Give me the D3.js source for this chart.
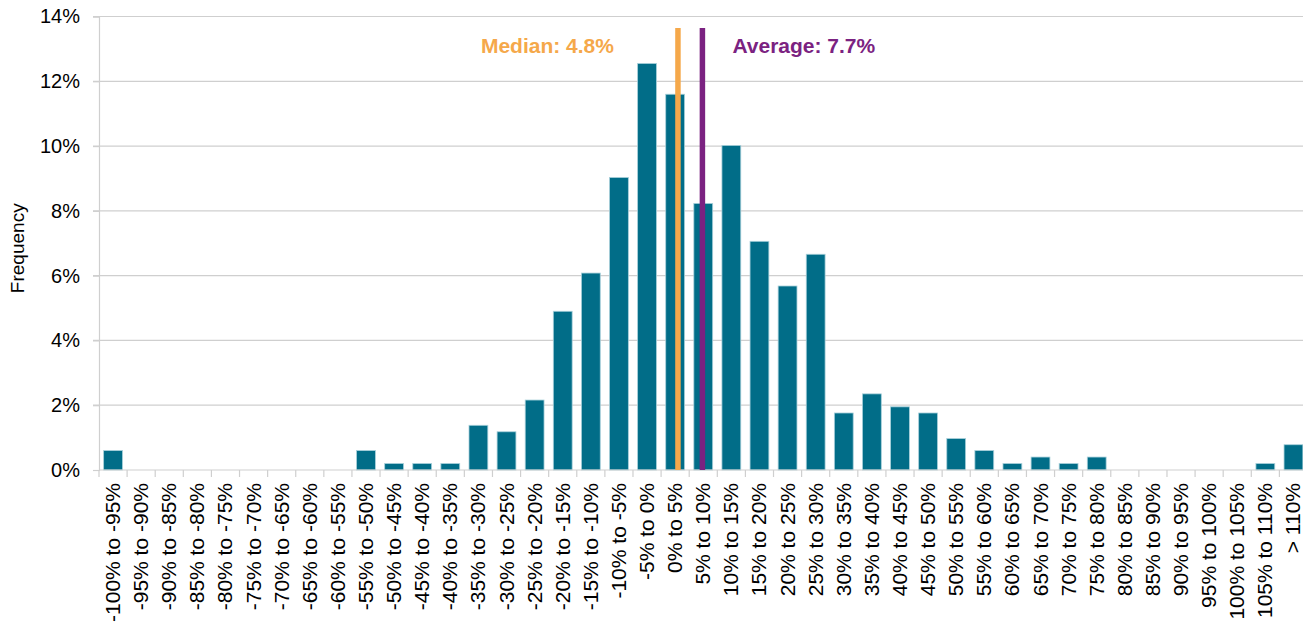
<!DOCTYPE html>
<meta charset="utf-8">
<style>
  body { margin: 0; background: #fff; }
  svg text { font-family: "Liberation Sans", Arial, sans-serif; fill: #000; }
</style>
<body>
<div id="chart"></div>
<script src="https://d3js.org/d3.v7.min.js"></script>
<script>
  // bins of the return distribution
  const categories = [
    "-100% to -95%", "-95% to -90%", "-90% to -85%", "-85% to -80%", "-80% to -75%",
    "-75% to -70%", "-70% to -65%", "-65% to -60%", "-60% to -55%", "-55% to -50%",
    "-50% to -45%", "-45% to -40%", "-40% to -35%", "-35% to -30%", "-30% to -25%",
    "-25% to -20%", "-20% to -15%", "-15% to -10%", "-10% to -5%", "-5% to 0%",
    "0% to 5%", "5% to 10%", "10% to 15%", "15% to 20%", "20% to 25%",
    "25% to 30%", "30% to 35%", "35% to 40%", "40% to 45%", "45% to 50%",
    "50% to 55%", "55% to 60%", "60% to 65%", "65% to 70%", "70% to 75%",
    "75% to 80%", "80% to 85%", "85% to 90%", "90% to 95%", "95% to 100%",
    "100% to 105%", "105% to 110%", "> 110%"
  ];
  // frequency in percent
  const frequency = [
    0.6, 0, 0, 0, 0,
    0, 0, 0, 0, 0.6,
    0.2, 0.2, 0.2, 1.38, 1.18,
    2.16, 4.9, 6.08, 9.03, 12.55,
    11.6, 8.23, 10.02, 7.06, 5.68,
    6.66, 1.76, 2.35, 1.95, 1.76,
    0.97, 0.6, 0.2, 0.4, 0.2,
    0.4, 0, 0, 0, 0,
    0, 0.2, 0.78
  ];
  const yTicks = [0, 2, 4, 6, 8, 10, 12, 14];

  // reference lines: label and position along the category axis (in bins)
  const refLines = [
    { label: "Median: 4.8%", pos: 20.6, color: "#f5a84a", side: "left" },
    { label: "Average: 7.7%", pos: 21.47, color: "#7b2281", side: "right" }
  ];

  const width = 1303, height = 623;
  const plot = { left: 99, right: 1307.5, top: 16.5, bottom: 470 };

  const svg = d3.select("#chart").append("svg")
    .attr("width", width).attr("height", height);

  const x = d3.scaleBand().domain(categories).range([plot.left, plot.right]).padding(0);
  const y = d3.scaleLinear().domain([0, 14]).range([plot.bottom, plot.top]);
  const step = x.step();
  const barW = step * 0.67;

  // gridlines
  svg.append("g")
    .selectAll("line")
    .data(yTicks.filter(d => d > 0))
    .join("line")
      .attr("x1", plot.left - 6).attr("x2", width)
      .attr("y1", d => y(d)).attr("y2", d => y(d))
      .attr("stroke", "#cfcfcf").attr("stroke-width", 1.2);

  // y axis
  const yAxis = svg.append("g")
    .attr("transform", `translate(${plot.left},0)`)
    .call(d3.axisLeft(y).tickValues(yTicks).tickFormat(d => d + "%").tickSize(6).tickPadding(13));
  yAxis.select(".domain").attr("stroke", "#cfcfcf").attr("stroke-width", 1.2);
  yAxis.selectAll(".tick line").attr("stroke", "#cfcfcf").attr("stroke-width", 1.2);
  yAxis.selectAll(".tick text").attr("font-size", 20).style("font-family", "Liberation Sans, Arial, sans-serif").attr("fill", "#000");

  // bars
  svg.append("g")
    .selectAll("rect")
    .data(frequency)
    .join("rect")
      .attr("x", (d, i) => x(categories[i]) + (step - barW) / 2)
      .attr("width", barW)
      .attr("y", d => y(d))
      .attr("height", d => y(0) - y(d))
      .attr("fill", "#016d88")
      .attr("stroke", "#a8d0da")
      .attr("stroke-width", 0.8);

  // x axis baseline + boundary ticks
  svg.append("line")
    .attr("x1", plot.left).attr("x2", width)
    .attr("y1", plot.bottom).attr("y2", plot.bottom)
    .attr("stroke", "#cfcfcf").attr("stroke-width", 1.2);
  svg.append("g")
    .selectAll("line")
    .data(d3.range(categories.length + 1))
    .join("line")
      .attr("x1", i => plot.left + i * step).attr("x2", i => plot.left + i * step)
      .attr("y1", plot.bottom).attr("y2", plot.bottom + 7)
      .attr("stroke", "#cfcfcf").attr("stroke-width", 1.2);

  // x labels (rotated)
  svg.append("g")
    .selectAll("text")
    .data(categories)
    .join("text")
      .attr("transform", d => `translate(${x(d) + step / 2 + 7},${plot.bottom + 13}) rotate(-90)`)
      .attr("text-anchor", "end")
      .attr("font-size", 21)
      .text(d => d);

  // y label
  svg.append("text")
    .attr("transform", `translate(24,${(plot.top + plot.bottom) / 2 + 5}) rotate(-90)`)
    .attr("text-anchor", "middle")
    .attr("font-size", 19)
    .text("Frequency");

  // median / average lines
  const refG = svg.append("g");
  refLines.forEach(r => {
    const lx = plot.left + r.pos * step;
    refG.append("line")
      .attr("x1", lx).attr("x2", lx)
      .attr("y1", 28).attr("y2", plot.bottom)
      .attr("stroke", r.color).attr("stroke-width", 5.5);
    refG.append("text")
      .attr("x", r.side === "left" ? lx - 64 : lx + 30)
      .attr("y", 53)
      .attr("text-anchor", r.side === "left" ? "end" : "start")
      .attr("font-size", 21)
      .attr("font-weight", "bold")
      .style("fill", r.color)
      .text(r.label);
  });
</script>
</body>
